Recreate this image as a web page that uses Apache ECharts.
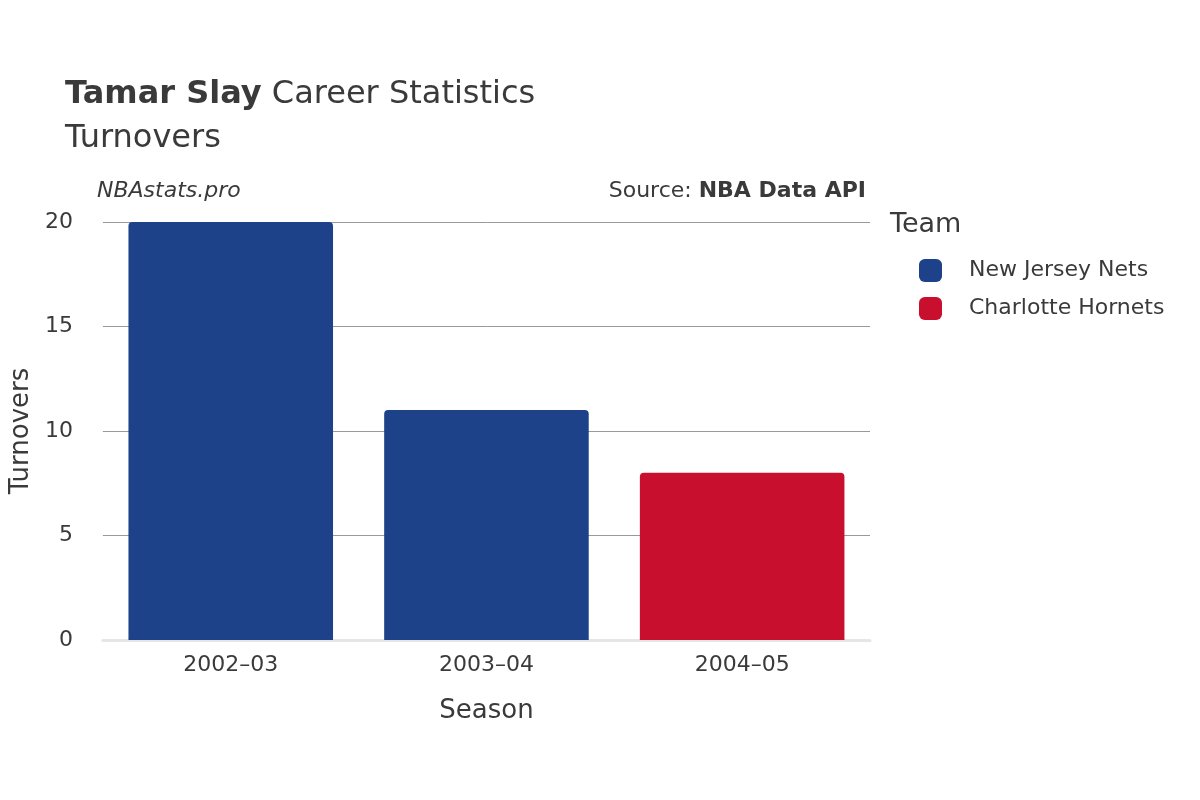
<!doctype html>
<html lang="en">
  <head>
    <meta charset="UTF-8" />
    <title>Tamar Slay Career Statistics</title>
    <style>
      html,
      body {
        width: 100%;
        height: 100%;
        margin: 0;
        padding: 0;
        background: #fff;
      }
      #Echart {
        width: 1200px;
        height: 800px;
      }
    </style>
  </head>
  <body>
    <div id="Echart"></div>
    <script src="https://cdn.jsdelivr.net/npm/echarts@6/dist/echarts.min.js"></script>
    <script>
      const seasons = ['2002–03', '2003–04', '2004–05']
      const netsTurnovers = [20, 11, null]
      const hornetsTurnovers = [null, null, 8]
      const yTicks = [0, 5, 10, 15, 20]

      const font = "'DejaVu Sans', 'Noto Sans', sans-serif"
      const chart = echarts.init(document.getElementById('Echart'))

      const option = {
        textStyle: { fontFamily: font },
        title: {
          left: 60,
          top: 68,
          text: '{b|Tamar Slay} Career Statistics\nTurnovers',
          textStyle: {
            fontSize: 32,
            fontWeight: 'normal',
            color: '#3a3a3a',
            lineHeight: 44,
            rich: {
              b: { fontSize: 32, fontWeight: 'bold', color: '#3a3a3a' },
            },
          },
        },
        graphic: [
          {
            type: 'text',
            left: 97,
            top: 180,
            style: { text: 'NBAstats.pro', font: 'italic 22px ' + font, fill: '#3a3a3a' },
          },
          {
            type: 'text',
            right: 334,
            top: 180,
            style: {
              text: 'Source: {b|NBA Data API}',
              font: '22px ' + font,
              fill: '#3a3a3a',
              rich: { b: { font: 'bold 22px ' + font, fill: '#3a3a3a' } },
            },
          },
          {
            type: 'text',
            left: 890,
            top: 211,
            style: { text: 'Team', font: '27px ' + font, fill: '#3a3a3a' },
          },
        ],
        legend: {
          orient: 'vertical',
          left: 914,
          top: 254,
          icon: 'roundRect',
          itemWidth: 23,
          itemHeight: 23,
          itemGap: 15,
          textStyle: { fontSize: 22, color: '#3a3a3a', padding: [0, 0, 0, 22] },
          data: ['New Jersey Nets', 'Charlotte Hornets'],
        },
        grid: { left: 92, right: 330, top: 222, bottom: 160 },
        xAxis: {
          type: 'category',
          data: seasons,
          name: 'Season',
          nameLocation: 'middle',
          nameGap: 58,
          nameTextStyle: { fontSize: 26, color: '#3a3a3a' },
          axisLine: { lineStyle: { color: '#e6e6e6', width: 3 } },
          axisTick: { show: false },
          axisLabel: { fontSize: 22, color: '#3a3a3a', margin: 14 },
        },
        yAxis: {
          type: 'value',
          min: yTicks[0],
          max: yTicks[yTicks.length - 1],
          interval: 5,
          name: 'Turnovers',
          nameLocation: 'middle',
          nameGap: 62,
          nameTextStyle: { fontSize: 26, color: '#3a3a3a' },
          axisLine: { show: false },
          axisTick: { show: false },
          axisLabel: { fontSize: 22, color: '#3a3a3a', margin: 30 },
          splitLine: { lineStyle: { color: '#999', width: 1 } },
        },
        series: [
          {
            name: 'New Jersey Nets',
            type: 'bar',
            stack: 'team',
            data: netsTurnovers,
            barWidth: '80%',
            itemStyle: { color: '#1d428a', borderRadius: [4, 4, 0, 0] },
          },
          {
            name: 'Charlotte Hornets',
            type: 'bar',
            stack: 'team',
            data: hornetsTurnovers,
            barWidth: '80%',
            itemStyle: { color: '#c8102e', borderRadius: [4, 4, 0, 0] },
          },
        ],
      }
      chart.setOption(option)
    </script>
  </body>
</html>
